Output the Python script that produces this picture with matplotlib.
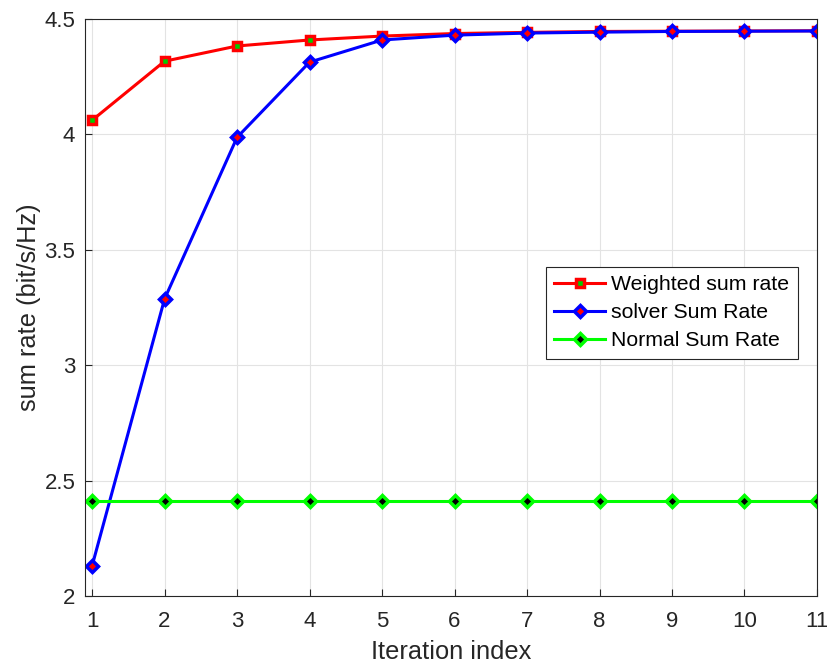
import matplotlib
matplotlib.use('Agg')
import matplotlib.pyplot as plt

iterations = [1, 2, 3, 4, 5, 6, 7, 8, 9, 10, 11]
weighted_rate = [4.061, 4.317, 4.383, 4.409, 4.426, 4.437, 4.442, 4.446, 4.447, 4.448, 4.449]
solver_rate = [2.13, 3.287, 3.987, 4.313, 4.409, 4.430, 4.439, 4.443, 4.446, 4.447, 4.448]
normal_rate = [2.41] * 11

plt.rcParams['font.family'] = ['Liberation Sans', 'DejaVu Sans']

fig = plt.figure(figsize=(8.28, 6.64), dpi=100)
ax = fig.add_axes([0.1027, 0.1024, 0.884, 0.869])

ax.plot(iterations, weighted_rate, color='red', lw=2.2, marker='s', ms=5.5,
        mfc='#00cc00', mec='red', mew=2.5, label='Weighted sum rate')
ax.plot(iterations, solver_rate, color='blue', lw=2.2, marker='D', ms=6.5,
        mfc='red', mec='blue', mew=2.5, label='solver Sum Rate')
ax.plot(iterations, normal_rate, color='#00ff00', lw=2.2, marker='D', ms=6.5,
        mfc='black', mec='#00ff00', mew=2.5, label='Normal Sum Rate')

ax.set_xlim(0.903, 11)
ax.set_ylim(2, 4.5)
ax.set_xticks(iterations)
ax.set_yticks([2, 2.5, 3, 3.5, 4, 4.5])
ax.set_yticklabels(['2', '2.5', '3', '3.5', '4', '4.5'])
ax.grid(True, color='#e3e3e3', lw=0.8)
ax.set_axisbelow(True)
ax.tick_params(labelsize=16, direction='in', length=5, color='#262626', labelcolor='#262626')
ax.tick_params(axis='x', pad=11)
ax.tick_params(axis='y', pad=7)
for s in ax.spines.values():
    s.set_color('#262626')
    s.set_linewidth(0.8)

ax.set_xlabel('Iteration index', fontsize=18.3, color='#262626', labelpad=5.5)
ax.set_ylabel('sum rate (bit/s/Hz)', fontsize=18.3, color='#262626', labelpad=2.5)

leg = ax.legend(loc='upper right', bbox_to_anchor=(0.9638, 0.5979),
                bbox_transform=fig.transFigure, borderaxespad=0, fontsize=15.3,
                fancybox=False, edgecolor='#262626', framealpha=1,
                handlelength=2.4, handletextpad=0.3, borderpad=0.4, labelspacing=0.42)
leg.get_frame().set_linewidth(0.8)

fig.savefig('out.png', dpi=100)
